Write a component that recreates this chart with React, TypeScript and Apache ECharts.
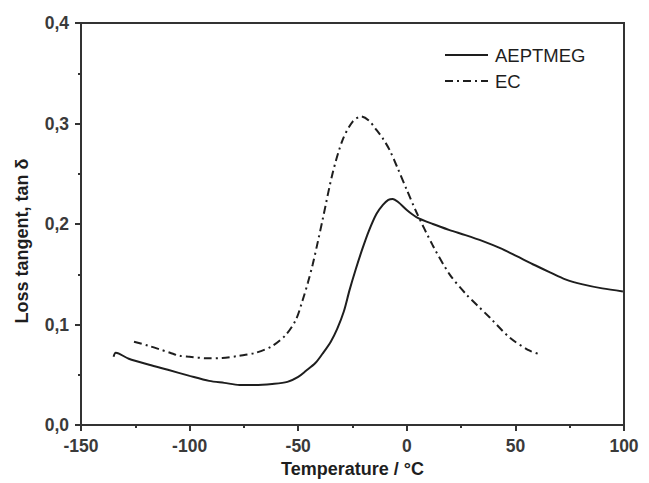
import React, { useEffect, useRef } from "react";
import * as echarts from "echarts";

const aeptmegT = [-135, -134, -128, -118.6, -110, -100, -91, -84, -77, -70, -62, -55, -50, -46.4, -42, -38.8, -35, -32, -29, -26.4, -23.5, -20.5, -17.5, -14, -11, -8.5, -6.5, -4, 0, 4.4, 12, 19.7, 27, 35, 43, 50.6, 58, 65.9, 73, 81, 90, 99.5];
const aeptmegTan = [0.068, 0.072, 0.066, 0.060, 0.055, 0.049, 0.044, 0.042, 0.040, 0.040, 0.041, 0.043, 0.048, 0.054, 0.062, 0.071, 0.083, 0.096, 0.113, 0.134, 0.155, 0.175, 0.193, 0.210, 0.219, 0.224, 0.225, 0.222, 0.214, 0.207, 0.200, 0.194, 0.189, 0.183, 0.176, 0.168, 0.160, 0.152, 0.145, 0.140, 0.136, 0.133];

const ecT = [-125.6, -119, -114, -109, -104.8, -100, -92, -85, -77, -69.4, -61.7, -55.6, -51, -48, -45.5, -43.3, -41, -38.7, -34.1, -29.5, -24.9, -21, -17.5, -14.1, -11, -8, -4.1, 0, 4.4, 11.9, 19.7, 27.4, 33, 38.2, 47.4, 56.6, 62];
const ecTan = [0.083, 0.079, 0.0755, 0.072, 0.069, 0.068, 0.0665, 0.0667, 0.069, 0.072, 0.079, 0.090, 0.105, 0.124, 0.142, 0.160, 0.182, 0.205, 0.251, 0.284, 0.302, 0.307, 0.303, 0.294, 0.285, 0.274, 0.255, 0.234, 0.212, 0.179, 0.150, 0.130, 0.118, 0.107, 0.087, 0.074, 0.070];

const seriesNames = ["AEPTMEG", "EC"];
const xTitle = "Temperature / °C";
const yTitle = "Loss tangent, tan δ";

const INK = "#1e1e1e";
const LABEL = "#3a3a3a";
const FONT = "Liberation Sans, Arial, sans-serif";

export default function App() {
  const ref = useRef<HTMLDivElement>(null);
  useEffect(() => {
    if (!ref.current) return;
    const chart = echarts.init(ref.current, null, { renderer: "svg" });
    const axisCommon = {
      axisLine: { show: true, onZero: false, lineStyle: { color: "#333", width: 2 } },
      axisTick: { show: true, inside: false, length: 6, lineStyle: { color: "#333", width: 2 } },
      minorTick: { show: true, splitNumber: 2, length: 3, lineStyle: { color: "#333", width: 2 } },
      splitLine: { show: false },
      axisLabel: { color: LABEL, fontSize: 17.5, fontWeight: "bold", fontFamily: FONT },
    };
    chart.setOption({
      animation: false,
      backgroundColor: "#fff",
      grid: { left: 81, right: 25, top: 23, bottom: 55, show: true, borderColor: "#333", borderWidth: 2, backgroundColor: "transparent" },
      xAxis: {
        type: "value",
        min: -150,
        max: 100,
        interval: 50,
        ...axisCommon,
        axisLabel: { ...axisCommon.axisLabel, margin: 12, formatter: (v: number) => String(v) },
        name: xTitle,
        nameLocation: "middle",
        nameGap: 34,
        nameTextStyle: { color: INK, fontSize: 18, fontWeight: "bold", fontFamily: FONT },
      },
      yAxis: {
        type: "value",
        min: 0,
        max: 0.4,
        interval: 0.1,
        ...axisCommon,
        axisLabel: { ...axisCommon.axisLabel, margin: 12, formatter: (v: number) => v.toFixed(1).replace(".", ",") },
      },
      graphic: [
        {
          type: "text",
          x: 22,
          y: 241,
          rotation: Math.PI / 2,
          style: { text: yTitle, fill: INK, font: `bold 18px ${FONT}`, align: "center", verticalAlign: "middle" },
        },
        { type: "line", shape: { x1: 445, y1: 55, x2: 488, y2: 55 }, style: { stroke: INK, lineWidth: 2 } },
        { type: "text", x: 495, y: 55, style: { text: seriesNames[0], fill: INK, font: `18.5px ${FONT}`, verticalAlign: "middle" } },
        { type: "line", shape: { x1: 445, y1: 81, x2: 488, y2: 81 }, style: { stroke: INK, lineWidth: 2, lineDash: [8, 4, 2, 4] } },
        { type: "text", x: 495, y: 81, style: { text: seriesNames[1], fill: INK, font: `18.5px ${FONT}`, verticalAlign: "middle" } },
      ],
      series: [
        {
          name: seriesNames[0],
          type: "line",
          data: aeptmegT.map((t, i) => [t, aeptmegTan[i]]),
          symbol: "none",
          smooth: 0.3,
          lineStyle: { color: INK, width: 2 },
        },
        {
          name: seriesNames[1],
          type: "line",
          data: ecT.map((t, i) => [t, ecTan[i]]),
          symbol: "none",
          smooth: 0.3,
          lineStyle: { color: INK, width: 2, type: [8, 4, 2, 4] },
        },
      ],
    });
    return () => chart.dispose();
  }, []);
  return <div ref={ref} style={{ width: 649, height: 483, position: "absolute", left: 0, top: 0 }} />;
}
